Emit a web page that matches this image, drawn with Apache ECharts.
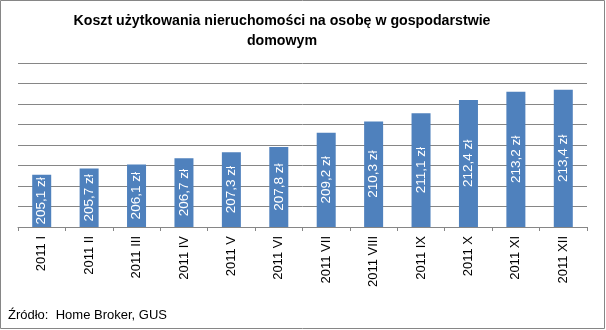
<!DOCTYPE html>
<html>
<head>
<meta charset="utf-8">
<script src="https://cdn.jsdelivr.net/npm/echarts@6/dist/echarts.min.js"></script>
<style>
html,body{margin:0;padding:0;background:#fff;}
#c{width:606px;height:330px;}
</style>
</head>
<body>
<div id="c"></div>
<script>
var categories = ['2011 I','2011 II','2011 III','2011 IV','2011 V','2011 VI','2011 VII','2011 VIII','2011 IX','2011 X','2011 XI','2011 XII'];
var values = [205.1, 205.7, 206.1, 206.7, 207.3, 207.8, 209.2, 210.3, 211.1, 212.4, 213.2, 213.4];
var titleText = 'Koszt użytkowania nieruchomości na osobę w gospodarstwie\ndomowym';
var sourceText = 'Źródło:  Home Broker, GUS';
var font = '"Liberation Sans", Arial, sans-serif';

var chart = echarts.init(document.getElementById('c'), null, {renderer: 'canvas'});
chart.setOption({
  animation: false,
  backgroundColor: '#fff',
  textStyle: {fontFamily: font},
  title: {
    text: titleText,
    left: 277,
    top: 6,
    textAlign: 'center',
    textStyle: {fontFamily: font, fontSize: 14.2, fontWeight: 'bold', color: '#000', lineHeight: 20}
  },
  graphic: [
    {type: 'rect', shape: {x: 0.5, y: 0.5, width: 604, height: 328}, style: {fill: 'none', stroke: '#868686', lineWidth: 1}, silent: true},
    {type: 'text', left: 8, top: 309, style: {text: sourceText, font: '13px ' + font, fill: '#000'}}
  ],
  grid: {left: 18, right: 19, top: 63, bottom: 103},
  xAxis: {
    type: 'category',
    data: categories,
    axisLine: {lineStyle: {color: '#868686'}},
    axisTick: {show: true, length: 4, lineStyle: {color: '#868686'}},
    axisLabel: {rotate: 90, fontSize: 13, color: '#000', fontFamily: font, margin: 9}
  },
  yAxis: {
    type: 'value',
    min: 200,
    max: 216,
    interval: 2,
    axisLabel: {show: false},
    axisLine: {show: false},
    axisTick: {show: false},
    splitLine: {lineStyle: {color: '#868686'}}
  },
  series: [{
    type: 'bar',
    data: values,
    barWidth: 19,
    itemStyle: {color: '#4F81BD'},
    label: {
      show: true,
      position: 'inside',
      rotate: 90,
      color: '#fff',
      fontSize: 13.5,
      fontFamily: font,
      formatter: function (p) { return p.value.toFixed(1).replace('.', ',') + ' zł'; }
    }
  }]
});
</script>
</body>
</html>
